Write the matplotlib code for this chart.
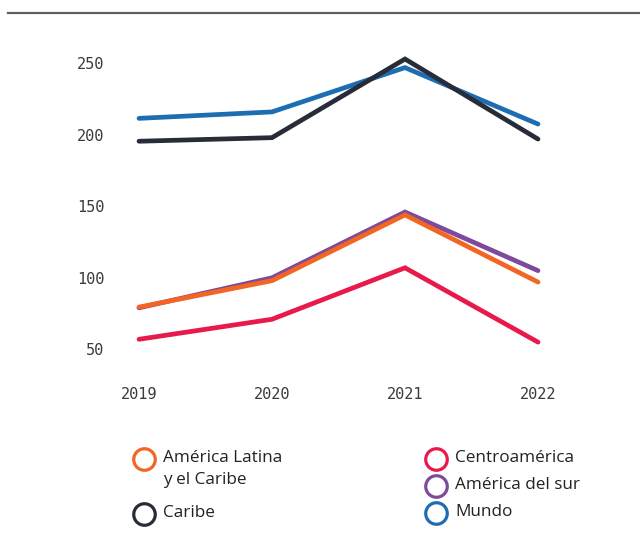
import matplotlib
matplotlib.use('Agg')
import matplotlib.pyplot as plt
from matplotlib.lines import Line2D

# --- Series (índice por año) ---
years = [2019, 2020, 2021, 2022]
mundo = [211.5, 216, 247, 207.5]
caribe = [195.5, 198, 253, 197]
america_sur = [79, 100, 146, 105]
alc = [79.5, 98, 144, 97]
centroamerica = [57, 71, 107, 55]

y_ticks = [50, 100, 150, 200, 250]

# drawing order: later series sit on top
series = [
    ('Mundo', mundo, '#1d6db3'),
    ('Caribe', caribe, '#272c38'),
    ('América del sur', america_sur, '#7d4a9c'),
    ('América Latina\ny el Caribe', alc, '#f26522'),
    ('Centroamérica', centroamerica, '#e8194b'),
]

W, H = 640, 540
fig = plt.figure(figsize=(W / 100, H / 100), dpi=100)

def px(x, y):
    """pixel position -> figure fraction"""
    return x / W, 1 - y / H

# axes box spans exactly from the first to last year and 50..250
x0, x1 = 139, 538
y_top, y_bot = 63.3, 349.3
ax = fig.add_axes([x0 / W, 1 - y_bot / H, (x1 - x0) / W, (y_bot - y_top) / H])
ax.set_xlim(2019, 2022)
ax.set_ylim(50, 250)

for name, vals, col in series:
    ax.plot(years, vals, color=col, linewidth=3.4, solid_capstyle='round',
            solid_joinstyle='miter', clip_on=False)

for s in ax.spines.values():
    s.set_visible(False)
ax.set_xticks(years)
ax.set_xticklabels([str(y) for y in years])
ax.set_yticks(y_ticks)
ax.set_yticklabels([str(v) for v in y_ticks])
ax.tick_params(axis='both', length=0, labelsize=11, labelcolor='#3a3a3a')
ax.tick_params(axis='y', pad=25)
ax.tick_params(axis='x', pad=27)
for lbl in ax.get_xticklabels() + ax.get_yticklabels():
    lbl.set_family('DejaVu Sans Mono')
ax.patch.set_alpha(0)

# top rule
fig.add_artist(Line2D([8 / W, 1.0], [1 - 13 / H, 1 - 13 / H], color='#5f5f5f',
                      linewidth=1.6, transform=fig.transFigure))

# legend, built by hand (two columns)
legend_items = [
    ('América Latina\ny el Caribe', '#f26522', 144, 459),
    ('Caribe', '#272c38', 144, 514),
    ('Centroamérica', '#e8194b', 436, 459),
    ('América del sur', '#7d4a9c', 436, 486),
    ('Mundo', '#1d6db3', 436, 513),
]
for label, col, lx, ly in legend_items:
    fx, fy = px(lx, ly)
    fig.add_artist(Line2D([fx], [fy], marker='o', markersize=15.5,
                          markerfacecolor='white', markeredgecolor=col,
                          markeredgewidth=2.3, transform=fig.transFigure))
    tx, ty = px(lx + 19, ly - 9)
    fig.text(tx, ty, label, ha='left', va='top', fontsize=12.3,
             family='Open Sans', color='#222222', linespacing=1.5)

fig.savefig('out.png', dpi=100)
